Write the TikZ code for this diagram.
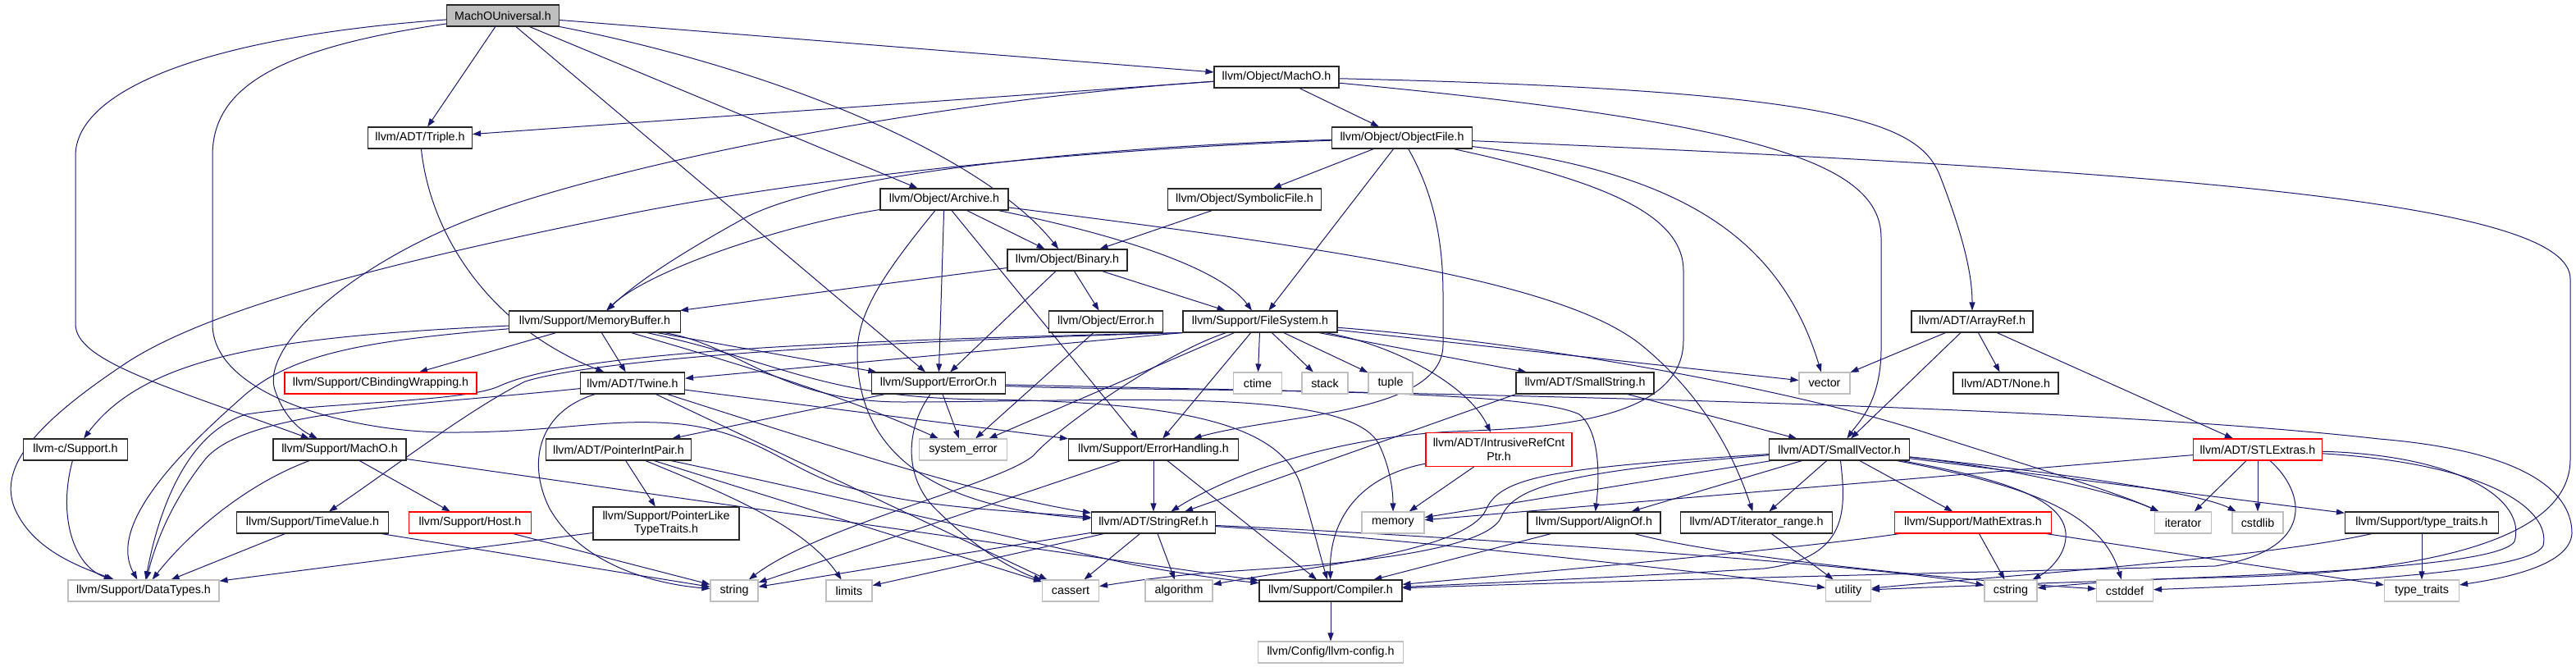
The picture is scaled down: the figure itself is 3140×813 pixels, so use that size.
\documentclass[tikz,border=0pt]{standalone}
\usepackage{fontspec}
\setmainfont{Liberation Sans}
\usetikzlibrary{arrows.meta}
\definecolor{edgec}{RGB}{25,25,112}
\definecolor{gbd}{RGB}{191,191,191}
\definecolor{mainfill}{RGB}{191,191,191}
\definecolor{bdc}{RGB}{40,40,40}
\pgfdeclarelayer{bg}
\pgfsetlayers{bg,main}
\begin{document}
\begin{tikzpicture}[x=1pt,y=-1pt,
  nd/.style={draw=bdc, line width=1.1pt, fill=white, inner sep=0pt, minimum height=26pt, font=\fontsize{14.3}{16.5}\selectfont, text=black, align=center},
  sysnd/.style={nd, draw=gbd},
  rednd/.style={nd, draw=red},
  mainnd/.style={nd, fill=mainfill},
  e/.style={draw=edgec, line width=1pt, -{Triangle[length=10pt,width=7pt]}},
]
\useasboundingbox (0,0) rectangle (3140,813);

% ---- nodes ----
\node[mainnd, minimum width=137pt] (main) at (613,19) {MachOUniversal.h};
\node[nd, minimum width=152pt] (omacho) at (1556,94) {llvm/Object/MachO.h};
\node[nd, minimum width=127pt] (triple) at (512,168) {llvm/ADT/Triple.h};
\node[nd, minimum width=171pt] (objfile) at (1709,168) {llvm/Object/ObjectFile.h};
\node[nd, minimum width=156pt] (archive) at (1151,243) {llvm/Object/Archive.h};
\node[nd, minimum width=187pt] (symfile) at (1517,243) {llvm/Object/SymbolicFile.h};
\node[nd, minimum width=146pt] (binary) at (1301,317) {llvm/Object/Binary.h};
\node[nd, minimum width=209pt] (membuf) at (725,392) {llvm/Support/MemoryBuffer.h};
\node[nd, minimum width=139pt] (oerror) at (1348,392) {llvm/Object/Error.h};
\node[nd, minimum width=188pt] (filesys) at (1536,392) {llvm/Support/FileSystem.h};
\node[nd, minimum width=148pt] (arrayref) at (2404,392) {llvm/ADT/ArrayRef.h};
\node[rednd, minimum width=234pt] (cbinding) at (464,467) {llvm/Support/CBindingWrapping.h};
\node[nd, minimum width=127pt] (twine) at (771,467) {llvm/ADT/Twine.h};
\node[nd, minimum width=163pt] (erroror) at (1144,467) {llvm/Support/ErrorOr.h};
\node[sysnd, minimum width=59pt] (ctime) at (1533,467) {ctime};
\node[sysnd, minimum width=56pt] (stack) at (1615,467) {stack};
\node[sysnd, minimum width=54pt] (tuple) at (1695,467) {tuple};
\node[nd, minimum width=168pt] (smallstr) at (1932,467) {llvm/ADT/SmallString.h};
\node[sysnd, minimum width=62pt] (vector) at (2224,467) {vector};
\node[nd, minimum width=128pt] (none) at (2445,467) {llvm/ADT/None.h};
\node[nd, minimum width=127pt] (csupport) at (92,548) {llvm-c/Support.h};
\node[nd, minimum width=162pt] (smacho) at (414,548) {llvm/Support/MachO.h};
\node[nd, minimum width=177pt] (ptrint) at (754,548) {llvm/ADT/PointerIntPair.h};
\node[sysnd, minimum width=107pt] (syserr) at (1174,548) {system\_error};
\node[nd, minimum width=207pt] (errhand) at (1406,548) {llvm/Support/ErrorHandling.h};
\node[rednd, minimum width=178pt, minimum height=41pt] (intrusive) at (1827,548) {llvm/ADT/IntrusiveRefCnt\\Ptr.h};
\node[nd, minimum width=171pt] (smallvec) at (2242,548) {llvm/ADT/SmallVector.h};
\node[rednd, minimum width=157pt] (stlextras) at (2752,548) {llvm/ADT/STLExtras.h};
\node[nd, minimum width=185pt] (timeval) at (381,637) {llvm/Support/TimeValue.h};
\node[rednd, minimum width=149pt] (host) at (573,637) {llvm/Support/Host.h};
\node[nd, minimum width=178pt, minimum height=40pt] (ptrlike) at (812,638) {llvm/Support/PointerLike\\TypeTraits.h};
\node[nd, minimum width=151pt] (stringref) at (1406,637) {llvm/ADT/StringRef.h};
\node[sysnd, minimum width=76pt] (memory) at (1698,637) {memory};
\node[nd, minimum width=162pt] (alignof) at (1943,637) {llvm/Support/AlignOf.h};
\node[nd, minimum width=185pt] (iterrange) at (2141,637) {llvm/ADT/iterator\_range.h};
\node[rednd, minimum width=191pt] (mathext) at (2405,637) {llvm/Support/MathExtras.h};
\node[sysnd, minimum width=69pt] (iterator) at (2661,637) {iterator};
\node[sysnd, minimum width=62pt] (cstdlib) at (2752,637) {cstdlib};
\node[nd, minimum width=187pt] (typetraitsh) at (2952,637) {llvm/Support/type\_traits.h};
\node[sysnd, minimum width=184pt] (datatypes) at (175,720) {llvm/Support/DataTypes.h};
\node[sysnd, minimum width=58pt] (string) at (895,720) {string};
\node[sysnd, minimum width=56pt] (limits) at (1035,720) {limits};
\node[sysnd, minimum width=69pt] (cassert) at (1305,720) {cassert};
\node[sysnd, minimum width=82pt] (algorithm) at (1437,720) {algorithm};
\node[nd, minimum width=174pt] (compiler) at (1622,720) {llvm/Support/Compiler.h};
\node[sysnd, minimum width=55pt] (utility) at (2253,720) {utility};
\node[sysnd, minimum width=64pt] (cstring) at (2451,720) {cstring};
\node[sysnd, minimum width=69pt] (cstddef) at (2590,720) {cstddef};
\node[sysnd, minimum width=91pt] (typetraits) at (2952,720) {type\_traits};
\node[sysnd, minimum width=177pt] (llvmconfig) at (1622,795) {llvm/Config/llvm-config.h};

% ---- edges ----
\begin{pgfonlayer}{bg}
\fill[white] (0,0) rectangle (3140,813);
% MachOUniversal.h
\draw[e] (main) .. controls (250,45) and (92,110) .. (92,190) -- (92,395) .. controls (92,440) and (200,470) .. (smacho);
\draw[e] (main) .. controls (330,60) and (259,110) .. (259,190) -- (259,395) .. controls (259,480) and (420,525) .. (540,527) .. controls (680,528) and (740,508) .. (830,517) .. controls (920,527) and (960,570) .. (1020,590) .. controls (1120,620) and (1230,622) .. (stringref);
\draw[e] (main) -- (triple);
\draw[e] (main) -- (erroror);
\draw[e] (main) -- (archive);
\draw[e] (main) .. controls (950,85) and (1200,190) .. (binary);
\draw[e] (main) -- (omacho);
% Object/MachO.h
\draw[e] (omacho) -- (triple);
\draw[e] (omacho) .. controls (1100,125) and (680,215) .. (536,283) .. controls (400,345) and (320,430) .. (335,475) .. controls (345,505) and (362,522) .. (smacho);
\draw[e] (omacho) -- (objfile);
\draw[e] (omacho) .. controls (2250,110) and (2340,150) .. (2365,215) .. controls (2390,280) and (2404,330) .. (arrayref);
\draw[e] (omacho) .. controls (2150,150) and (2293,200) .. (2293,290) -- (2293,425) .. controls (2293,490) and (2265,515) .. (smallvec);
% ObjectFile.h
\draw[e] (objfile) -- (symfile);
\draw[e] (objfile) .. controls (1350,178) and (1000,210) .. (900,270) .. controls (810,320) and (770,350) .. (membuf);
\draw[e] (objfile) .. controls (1250,185) and (950,225) .. (780,258) .. controls (520,310) and (260,370) .. (150,445) .. controls (30,525) and (0,575) .. (18,620) .. controls (40,670) and (95,690) .. (datatypes);
\draw[e] (objfile) -- (filesys);
\draw[e] (objfile) .. controls (1750,240) and (1759,300) .. (1759,360) -- (1759,420) .. controls (1759,505) and (1560,505) .. (errhand);
\draw[e] (objfile) .. controls (1950,220) and (2052,260) .. (2052,330) -- (2052,415) .. controls (2052,515) and (1880,522) .. (1770,526) .. controls (1600,535) and (1480,590) .. (stringref);
\draw[e] (objfile) .. controls (2050,210) and (2170,290) .. (vector);
\draw[e] (objfile) .. controls (2700,210) and (3133,250) .. (3133,340) -- (3133,560) .. controls (3133,660) and (2950,700) .. (2700,704) .. controls (2600,706) and (2530,712) .. (cstring);
% Archive.h
\draw[e] (archive) .. controls (950,275) and (790,330) .. (membuf);
\draw[e] (archive) .. controls (1080,330) and (1045,380) .. (1045,430) .. controls (1045,560) and (1150,620) .. (stringref);
\draw[e] (archive) -- (erroror);
\draw[e] ([xshift=9pt]archive.south) -- ([xshift=-19pt]errhand.north);
\draw[e] (archive) -- (binary);
\draw[e] (archive) .. controls (1380,290) and (1490,330) .. (filesys);
\draw[e] (archive) .. controls (1600,300) and (1900,340) .. (2000,420) .. controls (2080,485) and (2115,560) .. (iterrange);
% Binary.h and friends
\draw[e] (binary) -- (membuf);
\draw[e] (binary) -- (erroror);
\draw[e] (binary) -- (oerror);
\draw[e] (binary) -- (filesys);
\draw[e] (symfile) -- (binary);
\draw[e] (oerror) -- (syserr);
\draw[e] (triple) .. controls (525,290) and (600,400) .. (twine);
% MemoryBuffer.h
\draw[e] (membuf) .. controls (350,410) and (180,430) .. (csupport);
\draw[e] (membuf) .. controls (450,415) and (360,430) .. (300,480) .. controls (220,550) and (130,640) .. (datatypes);
\draw[e] (membuf) -- (cbinding);
\draw[e] (membuf) -- (twine);
\draw[e] (membuf) -- (erroror);
\draw[e] (membuf) .. controls (850,430) and (1000,470) .. (syserr);
\draw[e] (membuf) .. controls (900,420) and (950,490) .. (1100,490) .. controls (1350,490) and (1640,470) .. (1680,540) .. controls (1695,570) and (1698,600) .. (memory);
\draw[e] (membuf) .. controls (950,440) and (1000,485) .. (1200,487) .. controls (1450,490) and (1560,520) .. (1585,590) .. controls (1600,640) and (1610,680) .. (compiler);
% Twine.h
\draw[e] (twine) .. controls (500,495) and (300,500) .. (250,560) .. controls (210,610) and (190,660) .. (datatypes);
\draw[e] (twine) .. controls (660,500) and (640,560) .. (670,620) .. controls (710,690) and (800,712) .. (string);
\draw[e] (twine) -- (cassert);
\draw[e] (twine) .. controls (1000,540) and (1200,605) .. (stringref);
\draw[e] (twine) -- (errhand);
% ErrorOr.h
\draw[e] (erroror) -- (ptrint);
\draw[e] (erroror) -- (syserr);
\draw[e] (erroror) .. controls (1105,520) and (1100,580) .. (1140,620) .. controls (1200,680) and (1250,700) .. (cassert);
\draw[e] (erroror) .. controls (1400,478) and (1850,470) .. (1925,505) .. controls (1950,525) and (1950,580) .. (alignof);
\draw[e] (erroror) .. controls (1700,480) and (2500,490) .. (2900,535) .. controls (3080,550) and (3135,600) .. (3135,650) .. controls (3133,690) and (3050,705) .. (typetraits);
% PointerIntPair.h
\draw[e] (ptrint) -- (ptrlike);
\draw[e] (ptrint) .. controls (880,600) and (980,640) .. (limits);
\draw[e] (ptrint) -- (cassert);
\draw[e] (ptrint) .. controls (1000,600) and (1250,660) .. (1380,688) .. controls (1460,703) and (1510,708) .. (compiler);
% Support/MachO.h
\draw[e] (smacho) -- (compiler);
\draw[e] (smacho) .. controls (300,590) and (230,650) .. (datatypes);
\draw[e] (smacho) -- (host);
% small ones on the left
\draw[e] (timeval) -- (datatypes);
\draw[e] (timeval) -- (string);
\draw[e] (host) -- (string);
\draw[e] (csupport) .. controls (70,630) and (90,690) .. (datatypes);
\draw[e] (ptrlike) -- (datatypes);
% ErrorHandling.h
\draw[e] (errhand) -- (string);
\draw[e] (errhand) -- (stringref);
\draw[e] (errhand) -- (compiler);
% StringRef.h
\draw[e] (stringref) -- (string);
\draw[e] (stringref) -- (limits);
\draw[e] (stringref) -- (cassert);
\draw[e] (stringref) -- (algorithm);
\draw[e] (stringref) .. controls (1700,655) and (2100,700) .. (utility);
\draw[e] (stringref) .. controls (1800,655) and (2300,690) .. (cstring);
% Compiler.h
\draw[e] (compiler) -- (llvmconfig);
% AlignOf.h, iterator_range.h
\draw[e] (alignof) -- (compiler);
\draw[e] (alignof) .. controls (2100,680) and (2400,708) .. (cstddef);
\draw[e] (iterrange) -- (utility);
% MathExtras.h
\draw[e] (mathext) .. controls (2200,668) and (1850,700) .. (compiler);
\draw[e] (mathext) -- (cstring);
\draw[e] (mathext) -- (typetraits);
% SmallVector.h
\draw[e] (smallvec) -- (memory);
\draw[e] (smallvec) -- (alignof);
\draw[e] (smallvec) -- (iterrange);
\draw[e] (smallvec) -- (mathext);
\draw[e] (smallvec) .. controls (2250,620) and (2255,680) .. (2150,693) .. controls (1950,705) and (1780,712) .. (compiler);
\draw[e] (smallvec) .. controls (1900,570) and (1830,580) .. (1812,620) .. controls (1790,672) and (1600,690) .. (algorithm);
\draw[e] (smallvec) .. controls (1900,575) and (1845,595) .. (1830,630) .. controls (1810,680) and (1560,692) .. (1490,697) .. controls (1420,702) and (1370,710) .. (cassert);
\draw[e] (smallvec) .. controls (2450,570) and (2580,600) .. (iterator);
\draw[e] (smallvec) .. controls (2500,575) and (2680,600) .. (cstdlib);
\draw[e] (smallvec) -- (typetraitsh);
\draw[e] (smallvec) .. controls (2450,585) and (2515,610) .. (2518,650) .. controls (2520,680) and (2490,700) .. (cstring);
\draw[e] (smallvec) .. controls (2460,590) and (2560,620) .. (cstddef);
% STLExtras.h
\draw[e] (stlextras) -- (iterator);
\draw[e] (stlextras) -- (cstdlib);
\draw[e] (stlextras) -- (memory);
\draw[e] (stlextras) .. controls (2810,600) and (2825,670) .. (2700,690) .. controls (2300,700) and (1900,710) .. (compiler);
\draw[e] (stlextras) .. controls (3030,565) and (3110,620) .. (3100,665) .. controls (3085,700) and (2800,712) .. (cstddef);
\draw[e] (stlextras) .. controls (3000,555) and (3080,610) .. (3065,660) .. controls (3040,700) and (2600,705) .. (utility);
% type_traits.h
\draw[e] (typetraitsh) -- (typetraits);
\draw[e] (typetraitsh) .. controls (2750,682) and (2400,705) .. (utility);
% IntrusiveRefCntPtr.h
\draw[e] (intrusive) -- (memory);
\draw[e] (intrusive) .. controls (1660,580) and (1620,630) .. (compiler);
% SmallString.h
\draw[e] (smallstr.south west) -- (stringref);
\draw[e] (smallstr) -- (smallvec);
% ArrayRef.h
\draw[e] (arrayref) -- (vector);
\draw[e] (arrayref) -- (smallvec);
\draw[e] (arrayref) -- (none);
\draw[e] (arrayref) -- (stlextras);
% FileSystem.h
\draw[e] (filesys.south west) -- (twine);
\draw[e] (filesys.south west) .. controls (1000,415) and (700,430) .. (610,470) .. controls (570,490) and (400,490) .. (300,505) .. controls (220,530) and (190,640) .. (datatypes);
\draw[e] (filesys.south west) .. controls (1000,418) and (720,440) .. (640,465) .. controls (570,500) and (480,570) .. (timeval);
\draw[e] (filesys) -- (syserr);
\draw[e] (filesys) -- (errhand);
\draw[e] (filesys) -- (ctime);
\draw[e] (filesys) -- (stack);
\draw[e] (filesys) -- (tuple);
\draw[e] (filesys) .. controls (1700,420) and (1790,470) .. (intrusive);
\draw[e] (filesys) -- (smallstr);
\draw[e] (filesys) -- (vector);
\draw[e] (filesys) .. controls (1900,420) and (2200,480) .. (2340,525) .. controls (2480,570) and (2580,600) .. (iterator);
\draw[e] (filesys) .. controls (1420,430) and (1290,520) .. (1260,555) .. controls (1220,590) and (1000,640) .. (string);
\end{pgfonlayer}
\end{tikzpicture}
\end{document}
